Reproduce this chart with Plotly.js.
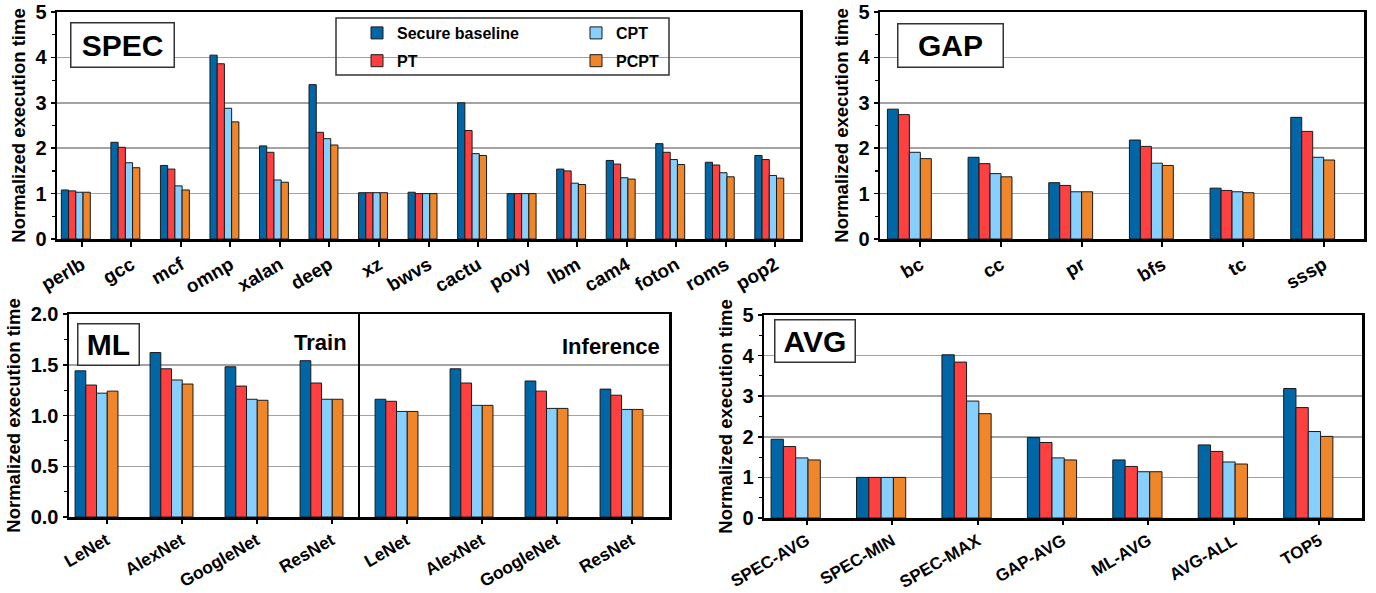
<!DOCTYPE html>
<html>
<head>
<meta charset="utf-8">
<script src="https://cdn.plot.ly/plotly-3.0.1.min.js"></script>
<style>html,body{margin:0;padding:0;background:#fff;}#chart{width:1376px;height:593px;}</style>
</head>
<body>
<div id="chart"></div>
<script>
// ---------------- data ----------------
const seriesNames = ['Secure baseline', 'PT', 'CPT', 'PCPT'];

const specCats = ['perlb','gcc','mcf','omnp','xalan','deep','xz','bwvs','cactu','povy','lbm','cam4','foton','roms','pop2'];
const specSecure = [1.08, 2.13, 1.62, 4.05, 2.05, 3.40, 1.02, 1.03, 3.00, 1.00, 1.54, 1.73, 2.10, 1.69, 1.84];
const specPT     = [1.06, 2.02, 1.54, 3.86, 1.91, 2.35, 1.02, 1.00, 2.39, 1.00, 1.50, 1.65, 1.91, 1.63, 1.75];
const specCPT    = [1.03, 1.68, 1.17, 2.88, 1.30, 2.21, 1.02, 1.00, 1.88, 1.00, 1.23, 1.35, 1.75, 1.46, 1.40];
const specPCPT   = [1.03, 1.57, 1.08, 2.58, 1.25, 2.07, 1.02, 1.00, 1.84, 1.00, 1.20, 1.32, 1.64, 1.37, 1.34];

const gapCats = ['bc','cc','pr','bfs','tc','sssp'];
const gapSecure = [2.86, 1.80, 1.24, 2.18, 1.12, 2.68];
const gapPT     = [2.74, 1.66, 1.18, 2.04, 1.07, 2.37];
const gapCPT    = [1.91, 1.44, 1.04, 1.67, 1.04, 1.80];
const gapPCPT   = [1.77, 1.37, 1.04, 1.62, 1.02, 1.74];

const mlCats = ['LeNet','AlexNet','GoogleNet','ResNet','LeNet','AlexNet','GoogleNet','ResNet'];
const mlSecure = [1.44, 1.62, 1.48, 1.54, 1.16, 1.46, 1.34, 1.26];
const mlPT     = [1.30, 1.46, 1.29, 1.32, 1.14, 1.32, 1.24, 1.20];
const mlCPT    = [1.22, 1.35, 1.16, 1.16, 1.04, 1.10, 1.07, 1.06];
const mlPCPT   = [1.24, 1.31, 1.15, 1.16, 1.04, 1.10, 1.07, 1.06];
const mlGroups = ['Train', 'Inference'];
const mlTrainCount = 4;

const avgCats = ['SPEC-AVG','SPEC-MIN','SPEC-MAX','GAP-AVG','ML-AVG','AVG-ALL','TOP5'];
const avgSecure = [1.94, 1.00, 4.02, 1.98, 1.43, 1.80, 3.19];
const avgPT     = [1.76, 1.00, 3.84, 1.86, 1.27, 1.64, 2.72];
const avgCPT    = [1.48, 1.00, 2.88, 1.48, 1.14, 1.38, 2.13];
const avgPCPT   = [1.43, 1.00, 2.57, 1.43, 1.14, 1.33, 2.01];

// ---------------- styling ----------------
const W = 1376, H = 593;
const colors = ['#0066a6', '#ff4040', '#87cfff', '#f0862a'];
const FONT = 'Liberation Sans, Arial, Helvetica, sans-serif';
const px = (a, b) => [a / W, b / W];
const py = (top, bottom) => [1 - bottom / H, 1 - top / H];

const panels = [
  {key: '', cats: specCats, vals: [specSecure, specPT, specCPT, specPCPT], w: 0.146, shift: -0.12,
   xd: px(57, 800), yd: py(12, 239), range: [0, 5], dtick: 1, minor: 0.5, fmt: 'd', legend: true, xfs: 19, tl: 5},
  {key: '2', cats: gapCats, vals: [gapSecure, gapPT, gapCPT, gapPCPT], w: 0.136, shift: -0.136,
   xd: px(880, 1364), yd: py(12, 239), range: [0, 5], dtick: 1, minor: 0.5, fmt: 'd', xfs: 19, tl: 5},
  {key: '3', cats: mlCats, vals: [mlSecure, mlPT, mlCPT, mlPCPT], w: 0.143, shift: -0.133,
   xd: px(69, 669), yd: py(314, 517), range: [0, 2], dtick: 0.5, minor: 0.25, fmt: '.1f', xfs: 17.5, tl: 4},
  {key: '4', cats: avgCats, vals: [avgSecure, avgPT, avgCPT, avgPCPT], w: 0.144, shift: -0.129,
   xd: px(764, 1362), yd: py(315, 518), range: [0, 5], dtick: 1, minor: 0.5, fmt: 'd', xfs: 17, tl: 4}
];

const data = [];
const legendFont = {family: FONT, size: 16, weight: 'bold', color: '#000'};
const layout = {
  width: W, height: H,
  margin: {l: 0, r: 0, t: 0, b: 0},
  paper_bgcolor: '#fff', plot_bgcolor: '#fff',
  barmode: 'overlay',
  font: {family: FONT, color: '#000', size: 16, weight: 'bold'},
  showlegend: true,
  legend: {x: 357 / W, y: 1 - 16 / H, xanchor: 'left', yanchor: 'top', bgcolor: 'rgba(0,0,0,0)',
           borderwidth: 0, font: legendFont, tracegroupgap: 4, orientation: 'v'},
  legend2: {x: 576 / W, y: 1 - 16 / H, xanchor: 'left', yanchor: 'top', bgcolor: 'rgba(0,0,0,0)',
           borderwidth: 0, font: legendFont, tracegroupgap: 4, orientation: 'v'},
  shapes: [], annotations: []
};

panels.forEach(p => {
  const xa = 'x' + p.key, ya = 'y' + p.key;
  const idx = p.cats.map((c, i) => i);
  p.vals.forEach((v, s) => {
    data.push({
      type: 'bar', x: idx, y: v, name: seriesNames[s], xaxis: xa, yaxis: ya,
      width: p.w, offset: p.shift - 2 * p.w + s * p.w,
      marker: {color: colors[s], line: {color: '#1a1a1a', width: 1}},
      showlegend: !!p.legend, legendgroup: 'g' + s,
      legend: (s === 0 || s === 1) ? 'legend' : 'legend2',
      hoverinfo: 'x+y'
    });
  });
  layout['xaxis' + p.key] = {
    domain: p.xd, anchor: ya, range: [-0.5, p.cats.length - 0.5],
    tickmode: 'array', tickvals: idx, ticktext: p.cats, tickangle: -30,
    ticks: 'outside', ticklen: p.tl, tickwidth: 2, tickcolor: '#000',
    tickfont: {family: FONT, size: p.xfs, weight: 'bold', color: '#000'},
    showline: true, linewidth: 2.5, linecolor: '#000', mirror: true,
    showgrid: false, zeroline: false, fixedrange: true
  };
  layout['yaxis' + p.key] = {
    domain: p.yd, anchor: xa, range: p.range, dtick: p.dtick, tick0: 0, tickformat: p.fmt,
    ticks: 'outside', ticklen: 4, tickwidth: 1.5, tickcolor: '#000',
    minor: {dtick: p.minor, tick0: 0, ticks: 'outside', ticklen: 3, tickwidth: 1.2, tickcolor: '#000', showgrid: false},
    tickfont: {family: FONT, size: 20, weight: 'bold', color: '#000'},
    showline: true, linewidth: 2.5, linecolor: '#000', mirror: true,
    showgrid: true, gridcolor: '#a3a3a3', gridwidth: 1.5, zeroline: false, fixedrange: true,
    title: {text: 'Normalized execution time', font: {family: FONT, size: 18.5, weight: 'bold', color: '#000'}, standoff: 5}
  };
});

// legend frame
layout.shapes.push({type: 'rect', xref: 'paper', yref: 'paper',
  x0: 336 / W, x1: 669 / W, y0: 1 - 75 / H, y1: 1 - 18 / H, line: {color: '#333', width: 1.5}, fillcolor: 'rgba(0,0,0,0)'});
// ML train / inference divider
layout.shapes.push({type: 'line', xref: 'x3', yref: 'y3 domain',
  x0: mlTrainCount - 0.5 + panels[2].shift, x1: mlTrainCount - 0.5 + panels[2].shift, y0: 0, y1: 1,
  line: {color: '#000', width: 2}});

// panel labels
const boxes = [
  {t: 'SPEC', cx: 122, cy: 45.5, w: 102, h: 43},
  {t: 'GAP', cx: 950, cy: 46, w: 104, h: 42},
  {t: 'ML', cx: 108, cy: 344, w: 60, h: 40},
  {t: 'AVG', cx: 814.5, cy: 340.5, w: 79, h: 41}
];
boxes.forEach(b => layout.annotations.push({
  xref: 'paper', yref: 'paper', x: b.cx / W, y: 1 - b.cy / H, xanchor: 'center', yanchor: 'middle',
  text: b.t, showarrow: false, width: b.w, height: b.h, borderpad: 0,
  bordercolor: '#333', borderwidth: 1.5, bgcolor: '#fff',
  font: {family: FONT, size: 30, weight: 'bold', color: '#000'}
}));
layout.annotations.push({xref: 'paper', yref: 'paper', x: 349 / W, y: 1 - 342 / H, xanchor: 'right', yanchor: 'middle',
  text: mlGroups[0], showarrow: false, font: {family: FONT, size: 22, weight: 'bold', color: '#000'}});
layout.annotations.push({xref: 'paper', yref: 'paper', x: 662 / W, y: 1 - 346 / H, xanchor: 'right', yanchor: 'middle',
  text: mlGroups[1], showarrow: false, font: {family: FONT, size: 22, weight: 'bold', color: '#000'}});

Plotly.newPlot('chart', data, layout, {displayModeBar: false, staticPlot: true});
</script>
</body>
</html>
